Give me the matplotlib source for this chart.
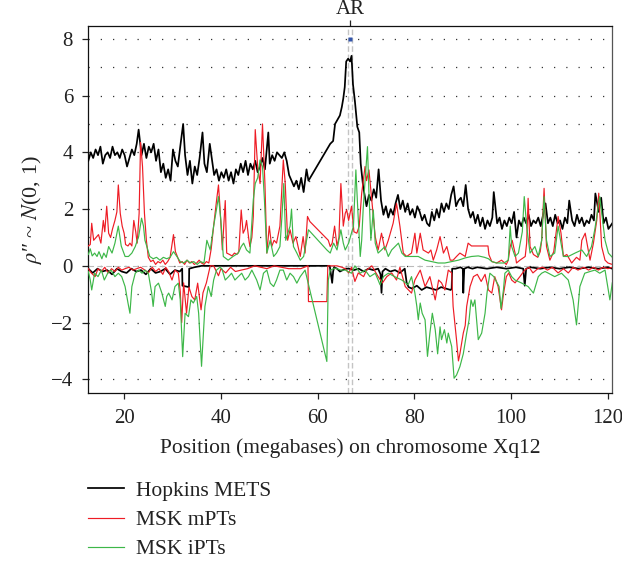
import matplotlib
matplotlib.use("Agg")
import matplotlib.pyplot as plt

# ---------------- data ----------------
XLIM = (12.6, 120.9)
YLIM = (-4.47, 8.44)
X_TICKS = [20, 40, 60, 80, 100, 120]
Y_TICKS = [-4, -2, 0, 2, 4, 6, 8]
Y_GRID = [-3, -1, 1, 3, 5, 7]
AR_POS = 66.7
AR_BOUNDS = [66.35, 67.05]
LABELS = ["Hopkins METS", "MSK mPTs", "MSK iPTs"]

# Hopkins METS, upper (amplification) curve
HOPKINS_AMP = [
    (12.6, 3.7), (13.1, 4.0), (13.6, 3.8), (14.1, 4.1), (14.6, 3.9), (15.1, 4.2), (15.6, 3.6),
    (16.1, 3.9), (16.6, 4.0), (17.1, 3.8), (17.6, 4.2), (18.1, 3.9), (18.6, 4.0), (19.1, 3.8),
    (19.6, 4.1), (20.1, 3.9), (20.6, 3.5), (21.1, 3.8), (21.6, 4.1), (22.1, 3.9), (22.6, 4.3),
    (23.0, 4.8), (23.6, 3.9), (24.1, 4.3), (24.6, 3.8), (25.1, 4.2), (25.6, 4.0), (26.1, 4.3),
    (26.6, 3.7), (27.1, 4.1), (27.6, 3.3), (28.1, 3.6), (28.6, 3.1), (29.1, 3.4), (29.6, 3.0),
    (30.1, 4.1), (30.6, 3.7), (31.1, 3.5), (31.6, 4.2), (32.2, 5.0), (32.6, 3.9), (33.1, 3.2),
    (33.6, 3.7), (34.1, 2.9), (34.6, 3.5), (35.1, 3.2), (35.6, 3.8), (36.2, 4.7), (36.6, 3.6),
    (37.1, 3.3), (37.7, 4.3), (38.1, 3.8), (38.6, 3.2), (39.1, 3.4), (39.6, 3.0), (40.1, 3.3),
    (40.6, 3.1), (41.1, 3.4), (41.6, 3.0), (42.1, 3.3), (42.6, 2.9), (43.1, 3.4), (43.6, 3.2),
    (44.1, 3.6), (44.6, 3.3), (45.1, 3.7), (45.6, 3.2), (46.1, 3.6), (46.6, 3.4), (47.1, 3.7),
    (47.6, 3.3), (48.1, 3.5), (48.6, 3.8), (49.1, 3.4), (49.8, 4.7), (50.1, 3.6), (50.6, 3.9),
    (51.1, 3.7), (51.6, 4.0), (52.1, 3.9), (52.6, 3.8), (53.1, 4.0), (53.6, 3.7), (54.1, 3.2),
    (54.6, 3.0), (55.1, 2.8), (55.6, 3.0), (56.1, 2.7), (56.6, 3.1), (57.1, 2.6), (57.7, 3.4),
    (58.1, 3.0), (62.6, 4.3), (63.2, 4.4), (63.6, 5.0), (64.6, 5.3), (65.0, 5.6), (65.3, 5.9),
    (65.6, 6.3), (65.9, 7.2), (66.3, 7.3), (66.7, 7.2), (67.0, 7.4), (67.3, 6.4), (67.7, 5.8),
    (68.2, 4.9), (68.6, 4.7), (68.9, 3.6), (69.4, 2.8), (70.1, 2.1), (70.6, 2.5), (71.1, 2.3),
    (71.6, 2.7), (72.1, 2.4), (72.6, 3.4), (73.1, 2.3), (73.6, 1.8), (74.1, 2.1), (74.6, 1.7),
    (75.1, 2.0), (75.6, 1.8), (76.1, 2.2), (76.6, 2.5), (77.1, 2.0), (77.6, 2.3), (78.1, 1.9),
    (78.6, 2.2), (79.1, 1.8), (79.6, 2.0), (80.1, 1.7), (80.6, 2.1), (81.1, 1.9), (81.6, 1.6),
    (82.1, 1.8), (82.6, 1.5), (83.1, 1.4), (83.6, 1.9), (84.1, 1.6), (84.6, 2.0), (85.1, 1.7),
    (85.6, 2.2), (86.1, 1.9), (86.6, 2.2), (87.1, 2.0), (87.6, 2.5), (88.1, 2.8), (88.6, 2.1),
    (89.1, 2.3), (89.6, 2.4), (90.1, 2.1), (90.6, 2.85), (91.1, 2.0), (91.6, 1.7), (92.1, 1.9),
    (92.6, 1.5), (93.1, 1.8), (93.6, 1.4), (94.1, 1.7), (94.6, 1.3), (95.1, 1.6), (95.6, 1.4),
    (96.1, 1.7), (96.4, 2.6), (97.1, 1.5), (97.6, 1.7), (98.1, 1.3), (98.6, 1.6), (99.1, 1.4),
    (99.6, 1.7), (100.1, 1.5), (100.6, 1.9), (101.1, 1.0), (101.6, 1.6), (102.1, 1.4), (102.6, 1.7),
    (103.1, 1.5), (103.6, 1.8), (104.1, 1.4), (104.6, 1.6), (105.1, 1.5), (105.6, 1.7), (106.1, 1.4),
    (106.6, 1.8), (107.1, 2.2), (107.6, 1.5), (108.1, 1.7), (108.6, 1.4), (109.1, 1.8), (109.6, 1.5),
    (110.1, 1.6), (110.6, 1.3), (111.1, 1.7), (111.6, 1.5), (112.0, 2.3), (112.6, 1.6), (113.1, 1.4),
    (113.6, 1.8), (114.1, 1.5), (114.6, 1.7), (115.1, 1.4), (115.6, 1.6), (116.1, 1.5), (116.6, 1.8),
    (117.1, 1.6), (117.4, 2.55), (118.1, 1.9), (118.6, 2.4), (119.1, 1.5), (119.6, 1.7), (120.1, 1.3),
    (120.9, 1.5),
]

# Hopkins METS, lower (deletion) curve
HOPKINS_DEL = [
    (12.6, -0.1), (13.5, -0.25), (14.5, -0.1), (15.5, -0.2), (16.5, -0.15), (17.5, -0.3),
    (18.5, -0.1), (19.5, -0.2), (20.5, -0.25), (21.5, -0.1), (22.5, -0.2), (23.5, -0.15),
    (24.5, -0.3), (25.5, -0.1), (26.5, -0.25), (27.5, -0.2), (28.5, -0.1), (29.5, -0.3),
    (30.5, -0.15), (31.5, -0.2), (32.0, -0.1), (32.05, -0.7), (33.4, -0.75), (33.45, -0.1),
    (34.5, -0.05), (36.0, 0.0), (57.0, 0.0), (62.5, 0.0), (63.0, -0.6), (63.2, -0.2),
    (63.4, -0.05), (64.0, -0.1), (64.6, -0.2), (65.2, -0.15), (65.7, -0.1), (66.5, -0.1),
    (67.5, -0.15), (68.5, -0.1), (69.5, -0.2), (70.5, -0.1), (71.5, -0.15), (72.5, -0.1),
    (73.0, -0.3), (73.2, -0.95), (73.4, -0.2), (74.0, -0.1), (75.0, -0.2), (76.0, -0.15),
    (77.0, -0.25), (78.0, -0.1), (78.4, -0.6), (78.8, -0.75), (79.5, -0.8), (80.5, -0.7),
    (81.5, -0.85), (82.5, -0.75), (83.5, -0.8), (84.5, -0.85), (85.5, -0.75), (86.5, -0.8),
    (87.5, -0.85), (87.7, -0.8), (87.8, -0.1), (88.5, -0.1), (89.5, -0.05), (90.0, -0.1),
    (90.1, -0.95), (90.3, -0.1), (91.0, -0.05), (92.0, -0.1), (93.0, -0.05), (95.0, -0.1),
    (97.0, -0.05), (99.0, -0.1), (101.0, -0.05), (102.5, -0.1), (102.8, -0.7), (103.1, -0.1),
    (104.0, -0.05), (106.0, -0.1), (108.0, -0.05), (110.0, -0.1), (112.0, -0.05), (114.0, -0.1),
    (116.0, -0.05), (118.0, -0.1), (120.0, -0.05), (120.9, -0.1),
]

# MSK mPTs, upper curve
MPT_AMP = [
    (12.6, 0.7), (13.0, 0.75), (13.3, 1.5), (13.7, 0.9), (14.2, 1.0), (14.7, 1.1), (15.2, 0.8),
    (15.7, 1.6), (16.0, 1.2), (16.4, 2.1), (16.8, 1.15), (17.2, 1.0), (17.6, 1.3), (18.1, 1.6),
    (18.5, 1.9), (18.8, 2.85), (19.2, 1.85), (19.6, 1.4), (20.0, 1.15), (20.3, 0.75), (20.8, 0.7),
    (21.2, 0.8), (21.6, 0.7), (22.0, 1.6), (22.4, 1.2), (22.7, 0.8), (23.1, 1.85), (23.4, 4.35),
    (23.8, 3.5), (24.2, 1.85), (24.6, 0.9), (25.0, 0.3), (25.5, 0.15), (26.0, 0.2), (26.5, 0.05),
    (27.0, 0.15), (27.5, 0.1), (28.0, 0.2), (28.5, 0.05), (29.0, 0.15), (29.5, 0.3), (30.2, 1.1),
    (30.6, 0.5), (31.0, 0.33), (31.5, 0.1), (32.0, 0.15), (32.5, 0.05), (33.0, 0.2), (33.5, 0.1),
    (34.0, 0.15), (34.5, 0.05), (35.0, 0.1), (35.5, 0.2), (36.0, 0.1), (36.5, 0.05), (37.0, 0.15),
    (37.5, 0.1), (38.0, 0.6), (38.5, 1.4), (39.1, 2.3), (39.5, 2.85), (39.8, 2.1), (40.3, 0.56),
    (40.9, 2.3), (41.2, 0.45), (41.8, 0.4), (42.3, 0.35), (42.8, 0.45), (43.3, 0.4), (43.7, 0.5),
    (44.2, 1.97), (44.6, 1.15), (45.0, 1.3), (45.3, 1.6), (45.8, 0.9), (46.0, 0.68), (46.4, 1.0),
    (46.7, 1.74), (47.1, 4.8), (47.6, 3.5), (48.1, 2.9), (48.6, 5.0), (49.1, 2.9), (49.5, 0.45),
    (50.0, 1.4), (50.5, 0.68), (51.0, 0.9), (51.5, 0.8), (52.2, 1.4), (52.9, 3.73), (53.3, 2.9),
    (53.8, 0.9), (54.3, 1.27), (54.9, 0.8), (55.5, 1.03), (56.4, 0.33), (57.0, 1.03), (57.4, 0.45),
    (57.9, 1.74), (58.4, 1.56), (62.2, 0.9), (62.6, 0.68), (63.0, 0.8), (63.5, 1.4), (64.0, 0.7),
    (64.4, 1.0), (64.8, 2.9), (65.3, 1.4), (65.7, 1.85), (66.0, 1.97), (66.4, 1.6), (67.0, 2.1),
    (67.5, 1.2), (68.1, 1.15), (68.6, 1.4), (69.1, 2.56), (69.8, 3.5), (70.1, 3.0), (70.6, 3.38),
    (71.2, 2.3), (71.9, 1.03), (72.5, 0.56), (73.2, 1.15), (73.9, 0.56), (74.6, 0.9), (75.6, 1.5),
    (76.3, 2.2), (77.0, 1.4), (77.7, 0.45), (78.4, 0.33), (79.4, 0.45), (80.1, 1.15), (80.5, 0.45),
    (81.2, 1.15), (81.8, 0.56), (82.9, 0.45), (83.4, 0.56), (83.9, 0.2), (84.6, 0.56), (85.3, 1.03),
    (86.0, 0.45), (86.7, 0.68), (87.4, 0.2), (88.0, 0.2), (88.7, 0.33), (89.4, 0.45), (90.5, 0.33),
    (91.1, 0.8), (91.8, 0.7), (95.2, 0.7), (95.4, 0.39), (96.0, 0.15), (97.0, 0.1), (98.0, 0.2),
    (99.0, 0.05), (99.4, 0.2), (99.8, 0.68), (100.2, 0.9), (100.8, 0.45), (101.1, 0.1), (101.8, 0.2),
    (102.9, 0.33), (103.2, 0.8), (103.5, 2.38), (103.9, 0.68), (104.6, 0.4), (105.5, 0.3),
    (106.0, 0.5), (106.3, 0.9), (106.8, 2.73), (107.3, 0.68), (108.0, 0.2), (108.8, 0.5),
    (109.7, 1.74), (110.3, 1.15), (110.8, 0.33), (111.5, 0.4), (112.5, 0.1), (113.5, 0.3),
    (114.2, 0.2), (114.6, 0.9), (115.3, 1.15), (116.3, 0.2), (117.0, 0.8), (117.7, 1.62),
    (118.1, 2.56), (118.7, 0.68), (119.4, 0.2), (120.0, 0.1), (120.9, 0.05),
]

# MSK mPTs, lower curve
MPT_DEL = [
    (12.6, -0.1), (13.2, -0.25), (14.0, -0.38), (14.6, -0.1), (15.3, -0.2), (16.0, -0.05),
    (16.7, -0.25), (17.4, -0.1), (18.1, -0.2), (18.8, -0.05), (19.5, -0.15), (20.2, -0.1),
    (21.0, -0.05), (21.8, -0.15), (22.6, -0.1), (23.4, -0.05), (24.3, -0.15), (25.0, -0.25),
    (25.8, -0.05), (26.5, -0.2), (27.2, -0.1), (28.0, -0.3), (28.6, -0.05), (29.2, -0.2),
    (29.9, -0.5), (30.5, -0.15), (31.2, -0.25), (31.6, -0.9), (31.9, -2.0), (32.3, -0.6),
    (32.9, -1.67), (33.4, -0.75), (34.0, -1.08), (34.6, -1.2), (35.2, -0.61), (35.9, -1.55),
    (36.3, -0.95), (37.0, -0.6), (37.8, 0.0), (38.5, 0.0), (39.5, -0.35), (40.0, -0.1),
    (41.0, -0.25), (42.0, -0.05), (43.0, -0.2), (44.2, -0.15), (45.5, -0.1), (47.0, 0.0),
    (49.5, -0.1), (51.0, 0.0), (54.0, -0.1), (56.5, -0.1), (58.0, 0.0), (58.1, -1.26),
    (61.9, -1.26), (62.1, 0.0), (64.0, 0.0), (65.0, -0.05), (65.7, -0.1), (66.4, -0.25),
    (67.0, -0.05), (67.7, -0.55), (68.4, -0.25), (69.5, -0.38), (70.1, -0.15), (71.2, 0.0),
    (72.5, -0.38), (73.4, -0.6), (74.3, -0.38), (75.3, -0.25), (76.3, -0.5), (77.0, -0.05),
    (78.1, -0.73), (79.4, -0.96), (80.1, -0.5), (81.2, -0.15), (82.2, -0.73), (83.2, -0.38),
    (84.3, -1.2), (85.0, -0.5), (85.6, -0.6), (86.3, -0.85), (87.0, -0.15), (87.7, -0.25),
    (88.0, -1.43), (88.7, -2.6), (89.1, -3.35), (89.4, -3.1), (90.1, -2.37), (90.5, -2.1),
    (90.8, -1.43), (91.5, -0.73), (92.2, -0.38), (93.0, -0.3), (93.8, -0.55), (94.6, -0.3),
    (95.3, -0.85), (96.0, -0.96), (96.6, -0.38), (97.3, -0.73), (98.0, -1.55), (98.4, -1.0),
    (99.0, -0.38), (99.5, -0.25), (100.1, -0.5), (100.8, -0.6), (101.8, -0.38), (102.8, -0.15),
    (103.7, -0.05), (104.5, -0.25), (105.5, -0.1), (106.5, -0.05), (107.5, -0.15), (108.5, -0.05),
    (109.7, -0.25), (110.8, -0.1), (111.8, -0.25), (112.8, -0.05), (113.8, -0.15), (115.0, -0.05),
    (116.0, -0.15), (117.0, -0.05), (118.0, -0.15), (119.0, -0.05), (120.0, -0.1), (120.9, -0.05),
]

# MSK iPTs, upper curve
IPT_AMP = [
    (12.6, 0.4), (13.0, 0.6), (13.4, 0.35), (13.9, 0.45), (14.4, 0.33), (14.8, 0.5), (15.4, 0.25),
    (15.8, 0.45), (16.3, 0.3), (16.8, 0.68), (17.5, 0.45), (18.1, 0.8), (18.8, 1.4), (19.4, 0.7),
    (20.2, 0.33), (20.9, 0.33), (21.6, 0.45), (22.3, 0.68), (23.0, 1.03), (23.6, 1.68), (24.0, 1.4),
    (24.3, 0.9), (24.7, 0.68), (25.3, 0.33), (26.0, 0.25), (26.7, 0.3), (27.4, 0.2), (28.1, 0.3),
    (28.8, 0.25), (29.5, 0.3), (30.2, 0.5), (30.9, 0.33), (31.6, 0.15), (32.3, 0.1), (33.0, 0.2),
    (33.7, 0.1), (34.4, 0.15), (35.1, 0.05), (35.8, 0.15), (36.5, 0.1), (37.1, 0.9), (37.8, 0.56),
    (38.5, 1.4), (39.1, 2.0), (39.5, 2.44), (40.0, 1.6), (40.5, 0.33), (41.5, 0.2), (42.5, 0.33),
    (43.6, 0.45), (44.2, 0.68), (44.7, 0.8), (45.3, 0.56), (46.0, 0.45), (46.7, 2.33), (47.1, 2.9),
    (47.6, 3.1), (48.1, 3.73), (48.6, 3.5), (49.0, 2.33), (49.5, 0.45), (50.2, 0.9), (50.9, 0.33),
    (51.5, 0.45), (52.2, 0.68), (52.6, 1.7), (53.0, 2.9), (53.4, 0.9), (54.3, 1.4), (54.6, 2.0),
    (55.0, 0.68), (55.7, 0.45), (56.4, 0.2), (57.1, 0.33), (57.7, 0.9), (58.1, 1.27), (61.9, 0.56),
    (62.6, 0.45), (63.3, 0.8), (64.0, 0.56), (64.8, 1.27), (65.3, 0.8), (65.7, 0.56), (66.4, 0.8),
    (67.4, 1.4), (67.9, 3.38), (68.3, 1.97), (68.8, 0.33), (69.1, 0.9), (69.4, 1.97), (69.8, 3.0),
    (70.3, 4.2), (70.6, 2.56), (71.0, 0.9), (71.5, 1.97), (71.9, 0.8), (72.5, 0.45), (73.2, 0.56),
    (73.9, 0.68), (74.6, 0.33), (75.3, 0.56), (76.0, 0.68), (76.7, 0.8), (77.4, 0.45), (78.1, 0.33),
    (79.4, 0.33), (80.8, 0.33), (82.2, 0.2), (83.6, 0.15), (84.9, 0.1), (86.3, 0.1), (87.7, 0.15),
    (89.1, 0.2), (90.5, 0.28), (91.8, 0.33), (93.2, 0.35), (94.5, 0.3), (95.3, 0.25), (96.0, 0.15),
    (97.0, 0.1), (98.5, 0.1), (99.4, 0.2), (99.8, 1.4), (100.1, 0.68), (100.8, 0.33), (101.5, 0.45),
    (102.3, 1.2), (102.7, 2.44), (103.2, 1.4), (103.9, 0.45), (104.9, 0.68), (105.6, 0.33),
    (106.3, 0.9), (106.8, 2.44), (107.3, 0.9), (108.0, 0.33), (109.0, 0.45), (109.7, 1.4),
    (110.3, 0.8), (110.8, 0.33), (111.8, 0.33), (113.2, 0.45), (114.6, 0.56), (115.6, 0.33),
    (116.6, 0.68), (117.3, 1.3), (117.9, 1.97), (118.3, 2.44), (118.8, 1.74), (119.4, 0.9),
    (120.1, 0.45), (120.9, 0.3),
]

# MSK iPTs, lower curve
IPT_DEL = [
    (12.6, -0.2), (13.0, -0.5), (13.3, -0.85), (13.9, -0.26), (14.6, -0.38), (15.3, -0.15),
    (15.9, -0.5), (16.6, -0.26), (17.3, -0.15), (18.1, -0.38), (18.8, -0.26), (19.5, -0.38),
    (20.2, -0.73), (20.8, -1.31), (21.2, -1.67), (21.6, -0.73), (22.3, -0.26), (23.0, -0.15),
    (23.7, -0.26), (24.3, -0.15), (25.0, -0.26), (25.7, -0.96), (26.0, -1.43), (26.4, -0.73),
    (27.1, -0.61), (27.8, -0.96), (28.5, -1.43), (28.8, -1.08), (29.2, -0.96), (29.9, -1.2),
    (30.5, -0.73), (31.2, -0.61), (31.6, -1.2), (32.1, -3.2), (32.6, -1.67), (33.3, -1.79),
    (33.8, -1.2), (34.3, -1.31), (35.0, -1.08), (35.4, -1.67), (35.7, -2.6), (36.0, -3.54),
    (36.4, -2.37), (36.7, -1.43), (37.4, -0.73), (38.0, -1.08), (38.5, -0.5), (39.1, -0.15),
    (39.8, -0.05), (40.2, -0.1), (40.9, -0.5), (41.6, -0.38), (42.2, -0.26), (42.9, -0.5),
    (43.6, -0.38), (44.3, -0.26), (45.0, -0.5), (45.7, -0.38), (46.4, -0.15), (47.4, -0.5),
    (48.1, -0.85), (48.8, -0.26), (49.5, -0.15), (50.2, -0.61), (50.9, -0.73), (51.5, -0.5),
    (52.2, -0.15), (52.9, -0.15), (53.6, -0.5), (54.3, -0.26), (55.0, -0.38), (55.7, -0.61),
    (56.4, -0.38), (57.4, -0.15), (61.9, -3.37), (62.2, -0.5), (62.6, -0.15), (63.6, -0.08),
    (64.8, -0.15), (65.7, -0.15), (67.0, -0.26), (67.7, 0.0), (68.8, -0.26), (69.8, -0.15),
    (70.8, -0.38), (71.9, -0.26), (72.5, -0.5), (72.9, -0.67), (73.6, -0.38), (74.6, -0.26),
    (75.9, -0.38), (77.4, -0.5), (78.7, -0.67), (79.4, -0.38), (80.1, -0.96), (80.5, -1.43),
    (80.8, -1.9), (81.2, -1.31), (81.6, -1.67), (82.2, -1.9), (82.7, -3.19), (83.2, -2.37),
    (83.7, -1.67), (84.3, -2.25), (84.8, -3.1), (85.3, -2.15), (85.6, -2.6), (86.2, -2.25),
    (86.7, -2.72), (87.0, -2.37), (87.7, -2.84), (88.2, -3.96), (88.7, -3.85), (89.4, -3.55),
    (90.1, -3.1), (90.8, -2.37), (91.3, -1.9), (91.7, -1.2), (92.1, -1.43), (92.5, -1.2),
    (93.2, -2.6), (93.9, -2.37), (94.6, -1.67), (95.0, -0.96), (95.6, -0.26), (96.4, -0.38),
    (97.5, -0.73), (97.9, -1.5), (98.4, -0.85), (98.7, -0.26), (99.4, -0.15), (100.1, -0.38),
    (100.8, -0.5), (102.2, -0.61), (103.5, -0.73), (104.6, -0.96), (105.6, -0.38), (106.3, -0.26),
    (107.0, -0.2), (107.7, -0.26), (109.0, -0.38), (110.4, -0.26), (111.8, -0.5), (112.8, -1.2),
    (113.5, -2.08), (114.2, -0.73), (115.2, -0.26), (116.3, -0.2), (117.3, -0.15), (118.3, -0.26),
    (119.4, -0.15), (120.4, -1.2), (120.9, -0.6),
]

# ---------------- style ----------------
BLACK = "#000000"
RED = "#ee1c25"
GREEN = "#3db748"
TEXT = "#222222"
FS = 15.5
TICK_FS = 15

plt.rcParams["font.family"] = ["Liberation Serif", "DejaVu Serif"]
plt.rcParams["mathtext.fontset"] = "stix"
plt.rcParams["font.size"] = FS

fig = plt.figure(figsize=(6.22, 5.61), dpi=100)
ax = fig.add_axes([0.142, 0.300, 0.8424, 0.6531])


def unzip(pairs):
    return [p[0] for p in pairs], [p[1] for p in pairs]


# zero reference
ax.axhline(0, color="#bbbbbb", lw=0.8, ls=(0, (5, 3)), zorder=1)

lines = []
for amp, dele, col, lw, lab in [
    (HOPKINS_AMP, HOPKINS_DEL, BLACK, 1.25, LABELS[0]),
    (MPT_AMP, MPT_DEL, RED, 0.85, LABELS[1]),
    (IPT_AMP, IPT_DEL, GREEN, 0.85, LABELS[2]),
]:
    xa, ya = unzip(amp)
    xd, yd = unzip(dele)
    ln, = ax.plot(xa, ya, color=col, lw=lw, zorder=3, label=lab)
    ax.plot(xd, yd, color=col, lw=lw, zorder=3)
    lines.append(ln)

# AR locus
for xb in AR_BOUNDS:
    ax.axvline(xb, color="#c4c4c4", lw=1.0, ls=(0, (4, 2)), zorder=2)
ax.plot([AR_POS], [8.0], marker="s", ms=2.2, color="#3355aa", mec="none", zorder=4)

ax.set_xlim(*XLIM)
ax.set_ylim(*YLIM)
ax.set_xticks(X_TICKS)
ax.set_yticks(Y_TICKS)
ax.set_yticks(Y_GRID, minor=True)
ax.tick_params(axis="both", which="major", direction="out", length=4, width=0.9,
               colors=TEXT, labelsize=TICK_FS, pad=7)
ax.tick_params(axis="y", which="minor", length=0)
ax.tick_params(axis="x", which="major", pad=8)
ax.yaxis.grid(True, which="both", color="#333333", lw=0.9, ls=(0, (1.0, 8.8)))
ax.set_axisbelow(True)

for s in ["left", "bottom", "top"]:
    ax.spines[s].set_color("#111111")
    ax.spines[s].set_linewidth(0.9)
ax.spines["right"].set_color("#555555")
ax.spines["right"].set_linewidth(0.9)

ax.set_xlabel("Position (megabases) on chromosome Xq12", fontsize=FS, color=TEXT, labelpad=7)
ax.set_ylabel("$\\rho$\u2033 ~ $N$(0, 1)", fontsize=16, color=TEXT, labelpad=5)

# AR top tick
top = ax.secondary_xaxis("top")
top.set_xticks([AR_POS])
top.set_xticklabels(["AR"])
top.tick_params(direction="out", length=4, width=0.9, colors=TEXT, labelsize=TICK_FS, pad=1)
top.spines["top"].set_visible(False)

fig.legend(handles=lines, labels=LABELS, loc="center left",
           bbox_to_anchor=(88 / 622, 1 - 520 / 561), frameon=False,
           fontsize=FS, handlelength=1.65, handletextpad=0.6, labelspacing=0.42,
           borderpad=0, borderaxespad=0, labelcolor=TEXT)

fig.savefig("out.png", dpi=100)
